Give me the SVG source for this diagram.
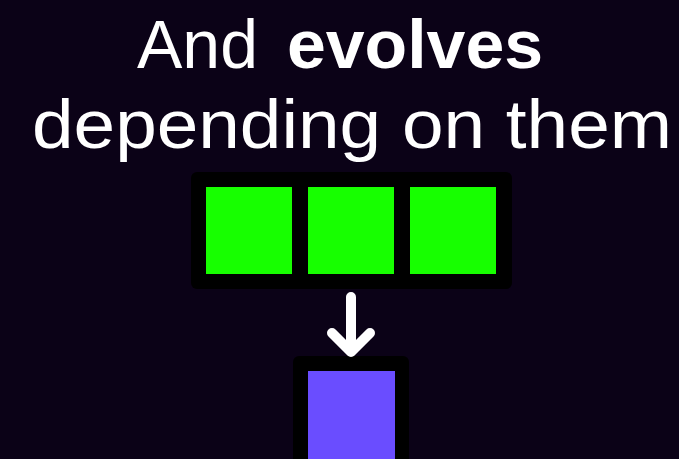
<svg xmlns="http://www.w3.org/2000/svg" width="679" height="459" viewBox="0 0 679 459">
  <style>
    .title { font-family: "Liberation Sans", Arial, sans-serif; font-size: 68px; fill: #ffffff; }
    .bold { font-weight: bold; }
    .frame { fill: #000000; }
    .green { fill: #17ff00; }
    .purple { fill: #6a4dff; }
    .arrow { fill: none; stroke: #ffffff; stroke-width: 10; stroke-linecap: round; stroke-linejoin: round; }
  </style>
  <rect width="679" height="459" fill="#0b0217"/>
  <g id="title">
    <text class="title" y="68"><tspan x="137">And</tspan><tspan class="bold" x="287" textLength="256" lengthAdjust="spacingAndGlyphs">evolves</tspan></text>
    <text class="title" x="32" y="148" textLength="640" lengthAdjust="spacingAndGlyphs">depending on them</text>
  </g>
  <g id="inputs">
    <rect class="frame" x="191" y="172" width="321" height="117" rx="6"/>
    <rect id="input-1" class="green" x="206" y="187" width="86" height="87"/>
    <rect id="input-2" class="green" x="308" y="187" width="86" height="87"/>
    <rect id="input-3" class="green" x="410" y="187" width="86" height="87"/>
  </g>
  <g id="output">
    <rect class="frame" x="293" y="356" width="116" height="120" rx="6"/>
    <rect class="purple" x="308" y="371" width="87" height="100"/>
  </g>
  <g id="connectors">
    <path class="arrow" d="M351 297 V350 M332 333 L351 352 L370 333"/>
  </g>
</svg>
